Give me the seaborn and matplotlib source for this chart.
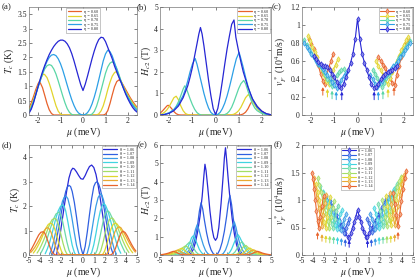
import matplotlib
matplotlib.use("Agg")
import matplotlib.pyplot as plt
import seaborn as sns
from matplotlib.colors import to_rgb
from matplotlib.ticker import FuncFormatter

# ── Series labels and colours ────────────────────────────────────────────
ETA = ["0.60", "0.65", "0.70", "0.75", "0.80"]
THETA = ["1.06", "1.07", "1.08", "1.09", "1.10", "1.11", "1.12", "1.13", "1.14"]
ETA_COLORS = ["#e8622b", "#e2d42c", "#5ad6a6", "#2c9fe6", "#2626d4"]
THETA_COLORS = ["#2828d6", "#3060e0", "#3a9ce6", "#40d4e0", "#6cdaa8",
                "#a4de66", "#dfd62e", "#e9a832", "#e8642c"]

# ── (a) Tc vs mu, eta series ─────────────────────────────────────────────
MU_A_060 = [-2.4, -2.3, -2.2, -2.1, -2.0, -1.95, -1.9, -1.8, -1.7, -1.6, -1.5, -1.4, -1.3,
            0.9, 1.0, 1.1, 1.2, 1.3, 1.4, 1.5, 1.6, 1.7, 1.8, 1.9, 2.0, 2.1, 2.2, 2.3, 2.4]
TC_A_060 = [0.24, 0.42, 0.64, 0.88, 1.08, 1.15, 1.12, 0.95, 0.68, 0.4, 0.18, 0.05, 0,
            0, 0.03, 0.15, 0.4, 0.7, 0.98, 1.16, 1.22, 1.16, 1.02, 0.88, 0.74, 0.6, 0.48, 0.37, 0.27]
MU_A_065 = [-2.4, -2.3, -2.2, -2.1, -2.0, -1.9, -1.8, -1.75, -1.7, -1.6, -1.5, -1.4, -1.3, -1.2, -1.1, -1.0, -0.9,
            0.6, 0.7, 0.8, 0.9, 1.0, 1.1, 1.2, 1.3, 1.4, 1.45, 1.5, 1.6, 1.7, 1.8, 1.9, 2.0, 2.1, 2.2, 2.3, 2.4]
TC_A_065 = [0.18, 0.33, 0.53, 0.76, 1.0, 1.22, 1.38, 1.42, 1.4, 1.3, 1.1, 0.85, 0.58, 0.32, 0.13, 0.03, 0,
            0, 0.04, 0.14, 0.32, 0.58, 0.88, 1.14, 1.35, 1.47, 1.5, 1.48, 1.35, 1.16, 0.98, 0.82, 0.67, 0.54, 0.42, 0.32, 0.23]
MU_A_070 = [-2.4, -2.3, -2.2, -2.1, -2.0, -1.9, -1.8, -1.7, -1.6, -1.5, -1.4, -1.3, -1.2, -1.1, -1.0, -0.9, -0.8,
            -0.7, -0.6, -0.5, -0.4,
            0.3, 0.4, 0.5, 0.6, 0.7, 0.8, 0.9, 1.0, 1.1, 1.2, 1.3, 1.4, 1.5, 1.6, 1.7, 1.8, 1.9, 2.0, 2.1, 2.2, 2.3, 2.4]
TC_A_070 = [0.14, 0.28, 0.48, 0.72, 0.97, 1.2, 1.42, 1.6, 1.71, 1.75, 1.72, 1.6, 1.42, 1.18, 0.92, 0.66, 0.42,
            0.22, 0.09, 0.02, 0,
            0, 0.03, 0.12, 0.3, 0.55, 0.85, 1.15, 1.45, 1.67, 1.8, 1.85, 1.78, 1.62, 1.4, 1.15, 0.95, 0.78, 0.63, 0.5, 0.38, 0.28, 0.19]
MU_A_GRID = [-2.4, -2.3, -2.2, -2.1, -2.0, -1.9, -1.8, -1.7, -1.6, -1.5, -1.4, -1.3, -1.2, -1.1, -1.0, -0.9, -0.8,
             -0.7, -0.6, -0.5, -0.4, -0.3, -0.2, -0.1, 0, 0.1, 0.2, 0.3, 0.4, 0.5, 0.6, 0.7, 0.8, 0.9, 1.0, 1.1, 1.2,
             1.3, 1.4, 1.5, 1.6, 1.7, 1.8, 1.9, 2.0, 2.1, 2.2, 2.3, 2.4]
TC_A_075 = [0.1, 0.24, 0.45, 0.7, 0.96, 1.2, 1.45, 1.68, 1.86, 2.0, 2.08, 2.1, 2.06, 1.95, 1.78, 1.56, 1.3,
            1.03, 0.77, 0.53, 0.33, 0.17, 0.07, 0.02, 0, 0.02, 0.08, 0.2, 0.38, 0.62, 0.9, 1.22, 1.55, 1.88, 2.12,
            2.25, 2.2, 2.05, 1.82, 1.58, 1.35, 1.13, 0.93, 0.75, 0.6, 0.46, 0.34, 0.24, 0.15]
TC_A_080 = [0.06, 0.2, 0.42, 0.7, 0.98, 1.25, 1.5, 1.72, 1.92, 2.1, 2.25, 2.38, 2.48, 2.56, 2.6, 2.6, 2.56,
            2.47, 2.33, 2.13, 1.88, 1.6, 1.32, 1.05, 0.85, 1.07, 1.35, 1.65, 1.95, 2.22, 2.45, 2.62, 2.7, 2.68, 2.55,
            2.35, 2.15, 1.95, 1.7, 1.5, 1.3, 1.12, 0.92, 0.72, 0.55, 0.4, 0.27, 0.17, 0.1]

# ── (b) Hc2 vs mu, eta series ────────────────────────────────────────────
MU_B_060 = [-2.4, -2.3, -2.2, -2.1, -2.05, -2.0, -1.9, -1.8, -1.7, -1.6, -1.5,
            1.0, 1.1, 1.2, 1.3, 1.4, 1.5, 1.6, 1.7, 1.8, 1.9, 2.0, 2.1, 2.2, 2.3, 2.4]
HC_B_060 = [0.08, 0.18, 0.3, 0.42, 0.45, 0.42, 0.3, 0.16, 0.06, 0.01, 0,
            0, 0.01, 0.05, 0.13, 0.28, 0.5, 0.68, 0.55, 0.4, 0.28, 0.18, 0.11, 0.06, 0.03, 0.01]
MU_B_065 = [-2.4, -2.3, -2.2, -2.1, -2.0, -1.9, -1.8, -1.7, -1.6, -1.5, -1.4, -1.3, -1.2, -1.1,
            0.6, 0.7, 0.8, 0.9, 1.0, 1.1, 1.2, 1.3, 1.42, 1.5, 1.6, 1.7, 1.8, 1.9, 2.0, 2.1, 2.2, 2.3, 2.4]
HC_B_065 = [0.02, 0.06, 0.13, 0.24, 0.4, 0.6, 0.8, 0.87, 0.7, 0.42, 0.2, 0.07, 0.02, 0,
            0, 0.01, 0.04, 0.1, 0.2, 0.36, 0.58, 0.8, 0.95, 0.85, 0.65, 0.46, 0.3, 0.19, 0.11, 0.06, 0.03, 0.01, 0]
MU_B_070 = [-2.4, -2.2, -2.0, -1.8, -1.7, -1.6, -1.5, -1.4, -1.33, -1.25, -1.1, -1.0, -0.9, -0.8, -0.7, -0.6,
            0.3, 0.4, 0.5, 0.6, 0.7, 0.8, 0.9, 1.0, 1.1, 1.22, 1.3, 1.4, 1.5, 1.6, 1.7, 1.8, 2.0, 2.2, 2.4]
HC_B_070 = [0, 0.03, 0.1, 0.25, 0.4, 0.62, 0.9, 1.2, 1.35, 1.2, 0.75, 0.48, 0.26, 0.11, 0.03, 0,
            0, 0.02, 0.07, 0.18, 0.36, 0.62, 0.92, 1.22, 1.45, 1.6, 1.45, 1.12, 0.8, 0.52, 0.32, 0.2, 0.07, 0.02, 0]
MU_B_075 = [-2.4, -2.2, -2.0, -1.8, -1.6, -1.4, -1.3, -1.2, -1.1, -1.0, -0.88, -0.8, -0.7, -0.6, -0.5, -0.4,
            -0.3, -0.2, -0.1, 0, 0.1, 0.2, 0.3, 0.4, 0.5, 0.6, 0.7, 0.8, 0.9, 1.02, 1.1, 1.2, 1.3, 1.4, 1.5, 1.6,
            1.8, 2.0, 2.2, 2.4]
HC_B_075 = [0, 0.03, 0.1, 0.25, 0.5, 0.9, 1.2, 1.58, 2.0, 2.35, 2.62, 2.35, 1.9, 1.45, 1.0, 0.62,
            0.32, 0.12, 0.03, 0, 0.03, 0.12, 0.3, 0.55, 0.88, 1.28, 1.72, 2.18, 2.6, 2.9, 2.6, 2.2, 1.75, 1.35, 1.0, 0.72,
            0.35, 0.15, 0.05, 0.01]
MU_B_080 = [-2.4, -2.2, -2.0, -1.8, -1.6, -1.4, -1.2, -1.1, -1.0, -0.9, -0.8, -0.72, -0.65, -0.58, -0.5, -0.4,
            -0.3, -0.2, -0.1, 0, 0.1, 0.2, 0.3, 0.4, 0.5, 0.6, 0.7, 0.75, 0.8, 0.88, 1.0, 1.1, 1.2, 1.4, 1.6, 1.8,
            2.0, 2.2, 2.4]
HC_B_080 = [0, 0.02, 0.08, 0.2, 0.42, 0.8, 1.35, 1.75, 2.2, 2.75, 3.3, 3.75, 4.05, 3.75, 3.2, 2.4,
            1.6, 0.9, 0.3, 0.02, 0.3, 0.9, 1.6, 2.35, 3.05, 3.65, 4.2, 4.3, 4.4, 3.6, 2.95, 2.45, 2.0, 1.3, 0.75, 0.4,
            0.18, 0.06, 0.01]

# ── (c) vF* vs mu, eta series (left / right branches) ────────────────────
MU_C_060_L = [-2.1, -2.0, -1.9, -1.8, -1.7, -1.6, -1.5, -1.42, -1.35, -1.25, -1.15, -1.05]
VF_C_060_L = [0.84, 0.79, 0.73, 0.65, 0.56, 0.46, 0.38, 0.34, 0.42, 0.52, 0.6, 0.68]
MU_C_060_R = [0.9, 1.0, 1.1, 1.2, 1.3, 1.4, 1.5, 1.6, 1.7, 1.8, 1.9, 2.0, 2.1, 2.2]
VF_C_060_R = [0.64, 0.6, 0.56, 0.52, 0.47, 0.41, 0.36, 0.33, 0.45, 0.55, 0.64, 0.72, 0.79, 0.84]
MU_C_065_L = [-2.15, -2.05, -1.95, -1.85, -1.75, -1.65, -1.55, -1.45, -1.35, -1.25, -1.15, -1.05, -0.95, -0.85]
VF_C_065_L = [0.88, 0.82, 0.76, 0.7, 0.64, 0.57, 0.5, 0.44, 0.38, 0.35, 0.42, 0.5, 0.56, 0.62]
MU_C_065_R = [0.8, 0.9, 1.0, 1.1, 1.2, 1.3, 1.4, 1.5, 1.6, 1.7, 1.8, 1.9, 2.0, 2.1, 2.2]
VF_C_065_R = [0.6, 0.55, 0.5, 0.45, 0.4, 0.34, 0.41, 0.48, 0.54, 0.6, 0.66, 0.72, 0.78, 0.83, 0.87]
MU_C_070_L = [-2.3, -2.2, -2.1, -2.0, -1.9, -1.8, -1.7, -1.6, -1.5, -1.4, -1.3, -1.2, -1.1, -1.0, -0.9, -0.8, -0.7, -0.6]
VF_C_070_L = [0.83, 0.78, 0.73, 0.69, 0.65, 0.61, 0.57, 0.53, 0.49, 0.45, 0.4, 0.36, 0.32, 0.38, 0.44, 0.48, 0.5, 0.51]
MU_C_070_R = [0.65, 0.75, 0.85, 0.95, 1.05, 1.15, 1.25, 1.35, 1.45, 1.55, 1.65, 1.75, 1.85, 1.95, 2.05, 2.15, 2.25]
VF_C_070_R = [0.5, 0.46, 0.41, 0.36, 0.31, 0.36, 0.41, 0.45, 0.49, 0.53, 0.57, 0.62, 0.66, 0.7, 0.74, 0.78, 0.82]
MU_C_075_L = [-2.3, -2.2, -2.1, -2.0, -1.9, -1.8, -1.7, -1.6, -1.5, -1.4, -1.3, -1.2, -1.1, -1.0, -0.9, -0.8,
              -0.7, -0.6, -0.5]
VF_C_075_L = [0.8, 0.76, 0.72, 0.68, 0.64, 0.6, 0.57, 0.54, 0.51, 0.48, 0.45, 0.41, 0.37, 0.33, 0.3, 0.34,
              0.39, 0.43, 0.47]
MU_C_075_R = [0.55, 0.65, 0.75, 0.85, 0.95, 1.05, 1.15, 1.25, 1.35, 1.45, 1.55, 1.65, 1.75, 1.85, 1.95, 2.05,
              2.15, 2.25]
VF_C_075_R = [0.45, 0.4, 0.35, 0.31, 0.34, 0.38, 0.42, 0.45, 0.48, 0.51, 0.54, 0.57, 0.6, 0.64, 0.68, 0.72,
              0.76, 0.8]
MU_C_080 = [-1.9, -1.8, -1.7, -1.6, -1.5, -1.4, -1.3, -1.2, -1.1, -1.0, -0.9, -0.8, -0.7, -0.6, -0.5, -0.4,
            -0.3, -0.2, -0.1, 0, 0.1, 0.2, 0.3, 0.4, 0.5, 0.6, 0.7, 0.8, 0.9, 1.0, 1.1, 1.2, 1.3, 1.4, 1.5, 1.6, 1.7]
VF_C_080 = [0.66, 0.62, 0.59, 0.57, 0.55, 0.54, 0.53, 0.5, 0.46, 0.42, 0.37, 0.32, 0.3, 0.35, 0.42, 0.5,
            0.58, 0.68, 0.84, 1.07, 0.84, 0.68, 0.58, 0.5, 0.42, 0.35, 0.3, 0.31, 0.35, 0.4, 0.43, 0.46, 0.48, 0.49,
            0.5, 0.52, 0.55]
ARROW_C_LEFT = [-1.5, -1.3, -1.1, -0.92, -0.68]
ARROW_C_RIGHT = [1.58, 1.32, 1.1, 0.9, 0.72]
ARROW_C_TOP = [0.31, 0.29, 0.27, 0.26, 0.26]

# ── (d) Tc vs mu, theta series ───────────────────────────────────────────
MU_D_106 = [-2.45, -2.3, -2.1, -1.9, -1.7, -1.5, -1.3, -1.1, -0.95, -0.8, -0.6, -0.4, -0.2, 0, 0.2, 0.4, 0.6,
            0.8, 1.0, 1.2, 1.4, 1.6, 1.8, 2.0, 2.2, 2.35]
TC_D_106 = [0, 0.35, 0.9, 1.5, 2.1, 2.65, 3.15, 3.45, 3.55, 3.52, 3.4, 3.25, 3.12, 3.1, 3.25, 3.45, 3.62,
            3.68, 3.58, 3.3, 2.85, 2.3, 1.7, 1.1, 0.5, 0.05]
MU_D_107 = [-2.8, -2.6, -2.4, -2.2, -2.0, -1.8, -1.6, -1.45, -1.3, -1.15, -1.0, -0.8, -0.6, -0.4, -0.2, 0, 0.2,
            0.4, 0.6, 0.8, 1.0, 1.15, 1.3, 1.45, 1.6, 1.8, 2.0, 2.2, 2.4, 2.6, 2.8]
TC_D_107 = [0.02, 0.3, 0.75, 1.25, 1.75, 2.2, 2.6, 2.78, 2.85, 2.8, 2.6, 2.15, 1.55, 0.9, 0.32, 0, 0.35,
            0.95, 1.65, 2.3, 2.8, 2.95, 3.0, 2.9, 2.7, 2.3, 1.8, 1.25, 0.7, 0.28, 0.03]
MU_D_108 = [-3.1, -2.9, -2.7, -2.5, -2.3, -2.1, -1.9, -1.75, -1.55, -1.4, -1.2, -1.0, -0.8, -0.6, -0.4, -0.3,
            0.3, 0.4, 0.6, 0.8, 1.0, 1.2, 1.4, 1.6, 1.75, 1.9, 2.1, 2.3, 2.5, 2.7, 2.9, 3.1]
TC_D_108 = [0.03, 0.25, 0.6, 1.0, 1.45, 1.85, 2.2, 2.35, 2.4, 2.3, 1.95, 1.45, 0.9, 0.4, 0.08, 0,
            0, 0.08, 0.42, 0.95, 1.5, 2.0, 2.35, 2.5, 2.45, 2.25, 1.85, 1.4, 0.95, 0.55, 0.22, 0.03]
MU_D_109 = [-3.5, -3.3, -3.1, -2.9, -2.7, -2.5, -2.3, -2.1, -1.9, -1.75, -1.6, -1.4, -1.2, -1.0, -0.8, -0.65,
            0.65, 0.8, 1.0, 1.2, 1.4, 1.6, 1.8, 1.95, 2.1, 2.3, 2.5, 2.7, 2.9, 3.1, 3.3, 3.5]
TC_D_109 = [0.05, 0.25, 0.5, 0.82, 1.18, 1.52, 1.8, 1.98, 2.05, 2.0, 1.8, 1.35, 0.85, 0.4, 0.1, 0,
            0, 0.1, 0.42, 0.88, 1.38, 1.8, 2.05, 2.1, 2.02, 1.8, 1.5, 1.15, 0.8, 0.5, 0.25, 0.07]
MU_D_110 = [-3.9, -3.7, -3.5, -3.3, -3.1, -2.9, -2.7, -2.5, -2.25, -2.1, -1.9, -1.7, -1.5, -1.3, -1.15, -1.0,
            1.0, 1.15, 1.3, 1.5, 1.7, 1.9, 2.1, 2.3, 2.45, 2.7, 2.9, 3.1, 3.3, 3.5, 3.7, 3.9]
TC_D_110 = [0.08, 0.25, 0.45, 0.7, 0.98, 1.25, 1.5, 1.68, 1.75, 1.68, 1.4, 0.98, 0.55, 0.2, 0.05, 0,
            0, 0.05, 0.2, 0.58, 1.02, 1.45, 1.72, 1.8, 1.75, 1.52, 1.27, 1.0, 0.73, 0.48, 0.28, 0.1]
MU_D_111 = [-4.25, -4.05, -3.85, -3.65, -3.45, -3.25, -3.05, -2.85, -2.6, -2.45, -2.25, -2.05, -1.85, -1.65,
            -1.5, -1.35, 1.35, 1.5, 1.65, 1.85, 2.05, 2.25, 2.45, 2.65, 2.8, 3.05, 3.25, 3.45, 3.65, 3.85, 4.05, 4.25]
TC_D_111 = [0.08, 0.22, 0.4, 0.6, 0.83, 1.07, 1.3, 1.45, 1.5, 1.44, 1.2, 0.85, 0.48, 0.18,
            0.05, 0, 0, 0.05, 0.18, 0.5, 0.88, 1.22, 1.45, 1.52, 1.48, 1.3, 1.08, 0.85, 0.62, 0.42, 0.24, 0.1]
MU_D_112 = [-4.6, -4.4, -4.2, -4.0, -3.8, -3.6, -3.4, -3.2, -2.95, -2.8, -2.6, -2.4, -2.2, -2.0, -1.85, -1.7,
            1.7, 1.85, 2.0, 2.2, 2.4, 2.6, 2.8, 3.0, 3.15, 3.4, 3.6, 3.8, 4.0, 4.2, 4.4, 4.6]
TC_D_112 = [0.08, 0.2, 0.35, 0.52, 0.72, 0.93, 1.12, 1.26, 1.3, 1.25, 1.05, 0.75, 0.42, 0.16, 0.04, 0,
            0, 0.04, 0.16, 0.44, 0.78, 1.07, 1.26, 1.3, 1.27, 1.12, 0.93, 0.73, 0.53, 0.36, 0.21, 0.09]
MU_D_113 = [-4.85, -4.65, -4.45, -4.25, -4.05, -3.85, -3.65, -3.45, -3.3, -3.15, -2.95, -2.75, -2.55, -2.35,
            -2.2, -2.05, 2.05, 2.2, 2.35, 2.55, 2.75, 2.95, 3.15, 3.35, 3.5, 3.7, 3.9, 4.1, 4.3, 4.5, 4.7, 4.85]
TC_D_113 = [0.1, 0.2, 0.32, 0.47, 0.63, 0.8, 0.96, 1.08, 1.12, 1.08, 0.92, 0.65, 0.37, 0.14,
            0.04, 0, 0, 0.04, 0.14, 0.38, 0.67, 0.95, 1.1, 1.15, 1.12, 0.98, 0.82, 0.65, 0.48, 0.33, 0.2, 0.12]
MU_D_114 = [-4.9, -4.7, -4.5, -4.3, -4.1, -3.9, -3.7, -3.55, -3.4, -3.2, -3.0, -2.8, -2.6, -2.45,
            2.45, 2.6, 2.8, 3.0, 3.2, 3.4, 3.55, 3.72, 3.9, 4.1, 4.3, 4.5, 4.7, 4.9]
TC_D_114 = [0.15, 0.3, 0.47, 0.65, 0.82, 0.93, 0.95, 0.9, 0.75, 0.5, 0.25, 0.08, 0.01, 0,
            0, 0.01, 0.08, 0.26, 0.52, 0.78, 0.92, 0.97, 0.92, 0.78, 0.6, 0.43, 0.28, 0.16]

# ── (e) Hc2 vs mu, theta series ──────────────────────────────────────────
MU_E_106 = [-2.4, -2.2, -2.0, -1.8, -1.6, -1.4, -1.2, -1.05, -0.95, -0.85, -0.7, -0.5, -0.3, -0.15, 0, 0.15,
            0.3, 0.5, 0.7, 0.8, 0.9, 1.0, 1.15, 1.3, 1.5, 1.7, 1.9, 2.1, 2.3]
HC_E_106 = [0, 0.1, 0.3, 0.7, 1.3, 2.1, 3.2, 4.3, 4.95, 4.6, 3.7, 2.4, 1.4, 0.95, 0.8, 0.95,
            1.5, 2.8, 4.4, 5.3, 5.85, 5.2, 4.1, 3.1, 2.0, 1.15, 0.55, 0.18, 0.02]
MU_E_107 = [-2.6, -2.4, -2.2, -2.0, -1.8, -1.6, -1.45, -1.3, -1.15, -1.0, -0.8, -0.6, -0.4, -0.2, 0, 0.2,
            0.4, 0.6, 0.8, 1.0, 1.15, 1.3, 1.45, 1.6, 1.8, 2.0, 2.2, 2.4, 2.6]
HC_E_107 = [0.02, 0.1, 0.25, 0.55, 1.0, 1.7, 2.4, 2.85, 2.5, 1.9, 1.2, 0.65, 0.28, 0.07, 0, 0.07,
            0.3, 0.7, 1.3, 2.1, 2.8, 3.25, 2.75, 2.0, 1.2, 0.6, 0.25, 0.08, 0.02]
MU_E_108 = [-3.0, -2.8, -2.6, -2.4, -2.2, -2.0, -1.8, -1.65, -1.5, -1.3, -1.1, -0.9, -0.7, -0.5, -0.35,
            0.35, 0.5, 0.7, 0.9, 1.1, 1.3, 1.5, 1.7, 1.85, 2.0, 2.2, 2.4, 2.6, 2.8, 3.0]
HC_E_108 = [0.01, 0.05, 0.12, 0.25, 0.5, 0.9, 1.4, 1.65, 1.4, 0.95, 0.55, 0.25, 0.08, 0.01, 0,
            0, 0.01, 0.08, 0.27, 0.6, 1.05, 1.5, 1.8, 1.5, 1.05, 0.6, 0.3, 0.12, 0.05, 0.01]
MU_E_109 = [-3.4, -3.1, -2.8, -2.5, -2.3, -2.15, -2.0, -1.85, -1.65, -1.45, -1.25, -1.05, -0.85, -0.7,
            0.7, 0.85, 1.05, 1.25, 1.45, 1.65, 1.85, 2.05, 2.2, 2.4, 2.6, 2.9, 3.2, 3.4]
HC_E_109 = [0.01, 0.05, 0.15, 0.4, 0.7, 0.95, 1.05, 0.9, 0.6, 0.3, 0.12, 0.03, 0.005, 0,
            0, 0.005, 0.03, 0.12, 0.32, 0.62, 0.92, 1.1, 0.95, 0.7, 0.4, 0.15, 0.05, 0.01]
MU_E_110 = [-3.8, -3.4, -3.1, -2.85, -2.6, -2.35, -2.15, -1.95, -1.75, -1.55, -1.3, -1.05,
            1.05, 1.3, 1.55, 1.75, 1.95, 2.15, 2.4, 2.6, 2.85, 3.1, 3.4, 3.8]
HC_E_110 = [0.01, 0.05, 0.15, 0.33, 0.55, 0.7, 0.58, 0.35, 0.16, 0.05, 0.01, 0,
            0, 0.01, 0.05, 0.16, 0.36, 0.6, 0.72, 0.56, 0.33, 0.15, 0.05, 0.01]
MU_E_111 = [-4.2, -3.8, -3.45, -3.2, -2.95, -2.7, -2.5, -2.3, -2.1, -1.9, -1.65, -1.4,
            1.4, 1.65, 1.9, 2.1, 2.3, 2.5, 2.75, 2.95, 3.2, 3.45, 3.8, 4.2]
HC_E_111 = [0.01, 0.04, 0.12, 0.24, 0.4, 0.5, 0.42, 0.25, 0.12, 0.04, 0.01, 0,
            0, 0.01, 0.04, 0.12, 0.26, 0.44, 0.52, 0.4, 0.24, 0.12, 0.04, 0.01]
MU_E_112 = [-4.5, -4.15, -3.8, -3.55, -3.3, -3.05, -2.85, -2.65, -2.45, -2.25, -2.0, -1.75,
            1.75, 2.0, 2.25, 2.45, 2.65, 2.85, 3.1, 3.3, 3.55, 3.8, 4.15, 4.5]
HC_E_112 = [0.01, 0.04, 0.1, 0.18, 0.3, 0.37, 0.3, 0.18, 0.08, 0.03, 0.005, 0,
            0, 0.005, 0.03, 0.08, 0.19, 0.31, 0.38, 0.3, 0.18, 0.1, 0.04, 0.01]
MU_E_113 = [-4.8, -4.45, -4.15, -3.9, -3.65, -3.4, -3.2, -3.0, -2.8, -2.6, -2.35, -2.1,
            2.1, 2.35, 2.6, 2.8, 3.0, 3.2, 3.45, 3.65, 3.9, 4.15, 4.45, 4.8]
HC_E_113 = [0.01, 0.03, 0.08, 0.14, 0.22, 0.27, 0.22, 0.13, 0.06, 0.02, 0.005, 0,
            0, 0.005, 0.02, 0.06, 0.14, 0.23, 0.28, 0.22, 0.14, 0.08, 0.03, 0.01]
MU_E_114 = [-5.0, -4.75, -4.5, -4.25, -4.0, -3.8, -3.6, -3.4, -3.2, -3.0, -2.75, -2.5,
            2.5, 2.75, 3.0, 3.2, 3.4, 3.6, 3.8, 4.0, 4.25, 4.5, 4.75, 5.0]
HC_E_114 = [0.01, 0.03, 0.06, 0.1, 0.16, 0.2, 0.16, 0.1, 0.05, 0.02, 0.005, 0,
            0, 0.005, 0.02, 0.05, 0.1, 0.16, 0.2, 0.16, 0.1, 0.06, 0.03, 0.01]

# ── (f) vF* vs mu, theta series (left / right branches) ──────────────────
MU_F_106 = [-2.1, -1.9, -1.7, -1.5, -1.3, -1.1, -0.9, -0.75, -0.6, -0.45, -0.3, -0.15, 0, 0.15, 0.3, 0.45,
            0.6, 0.75, 0.9, 1.05, 1.25, 1.45, 1.65, 1.85, 2.05]
VF_F_106 = [0.8, 0.72, 0.64, 0.55, 0.47, 0.4, 0.33, 0.31, 0.4, 0.5, 0.6, 0.7, 0.82, 0.7, 0.6, 0.5,
            0.41, 0.33, 0.32, 0.4, 0.48, 0.56, 0.64, 0.72, 0.8]
MU_F_107_L = [-2.5, -2.3, -2.1, -1.9, -1.7, -1.5, -1.35, -1.2, -1.05, -0.9, -0.75]
VF_F_107_L = [0.98, 0.9, 0.8, 0.72, 0.62, 0.52, 0.45, 0.4, 0.5, 0.58, 0.65]
MU_F_107_R = [0.85, 1.0, 1.15, 1.3, 1.45, 1.65, 1.85, 2.05, 2.25, 2.45, 2.6]
VF_F_107_R = [0.66, 0.58, 0.5, 0.42, 0.48, 0.58, 0.68, 0.78, 0.88, 0.96, 1.02]
MU_F_108_L = [-2.8, -2.6, -2.4, -2.2, -2.0, -1.8, -1.65, -1.5, -1.35, -1.2, -1.05]
VF_F_108_L = [1.08, 0.98, 0.88, 0.78, 0.68, 0.58, 0.5, 0.45, 0.56, 0.66, 0.74]
MU_F_108_R = [1.15, 1.3, 1.45, 1.6, 1.75, 1.95, 2.15, 2.35, 2.55, 2.75, 2.9]
VF_F_108_R = [0.75, 0.66, 0.56, 0.47, 0.52, 0.62, 0.74, 0.84, 0.94, 1.04, 1.1]
MU_F_109_L = [-3.1, -2.9, -2.7, -2.5, -2.3, -2.15, -2.0, -1.85, -1.7, -1.55, -1.4]
VF_F_109_L = [1.15, 1.05, 0.95, 0.84, 0.72, 0.62, 0.55, 0.48, 0.62, 0.74, 0.82]
MU_F_109_R = [1.5, 1.65, 1.8, 1.95, 2.1, 2.3, 2.5, 2.7, 2.9, 3.1, 3.25]
VF_F_109_R = [0.85, 0.75, 0.63, 0.5, 0.56, 0.68, 0.8, 0.92, 1.02, 1.12, 1.2]
MU_F_110_L = [-3.35, -3.15, -2.95, -2.75, -2.6, -2.45, -2.3, -2.2, -2.05, -1.9, -1.75]
VF_F_110_L = [1.25, 1.13, 1.0, 0.88, 0.78, 0.67, 0.57, 0.5, 0.66, 0.8, 0.9]
MU_F_110_R = [1.85, 2.0, 2.15, 2.3, 2.45, 2.65, 2.85, 3.05, 3.25, 3.45, 3.6]
VF_F_110_R = [0.92, 0.8, 0.66, 0.52, 0.6, 0.74, 0.88, 1.0, 1.12, 1.24, 1.3]
MU_F_111_L = [-3.6, -3.45, -3.3, -3.15, -3.0, -2.85, -2.7, -2.55, -2.4, -2.25, -2.1]
VF_F_111_L = [1.4, 1.28, 1.15, 1.02, 0.88, 0.75, 0.62, 0.5, 0.7, 0.86, 0.98]
MU_F_111_R = [2.2, 2.35, 2.5, 2.65, 2.8, 3.0, 3.2, 3.4, 3.6, 3.75, 3.9]
VF_F_111_R = [1.0, 0.86, 0.7, 0.52, 0.64, 0.8, 0.96, 1.1, 1.24, 1.34, 1.42]
MU_F_112_L = [-3.75, -3.6, -3.45, -3.3, -3.15, -3.0, -2.85, -2.75, -2.6, -2.45]
VF_F_112_L = [1.3, 1.15, 1.0, 0.86, 0.72, 0.6, 0.5, 0.7, 0.9, 1.05]
MU_F_112_R = [2.55, 2.7, 2.85, 3.0, 3.15, 3.3, 3.5, 3.7, 3.9, 4.05]
VF_F_112_R = [1.08, 0.9, 0.72, 0.55, 0.68, 0.84, 1.0, 1.16, 1.3, 1.4]
MU_F_113_L = [-3.95, -3.8, -3.65, -3.5, -3.35, -3.2, -3.1, -2.95, -2.8]
VF_F_113_L = [1.4, 1.22, 1.04, 0.86, 0.7, 0.52, 0.72, 0.94, 1.1]
MU_F_113_R = [2.9, 3.05, 3.2, 3.35, 3.5, 3.65, 3.85, 4.05, 4.2]
VF_F_113_R = [1.12, 0.92, 0.72, 0.54, 0.7, 0.9, 1.1, 1.3, 1.45]
MU_F_114_L = [-4.1, -4.0, -3.9, -3.8, -3.7, -3.6, -3.5, -3.35, -3.2, -3.05]
VF_F_114_L = [1.5, 1.38, 1.2, 1.0, 0.8, 0.62, 0.5, 0.7, 0.9, 1.08]
MU_F_114_R = [3.2, 3.35, 3.5, 3.65, 3.8, 3.95, 4.1, 4.25, 4.4]
VF_F_114_R = [1.12, 0.92, 0.72, 0.52, 0.74, 0.98, 1.2, 1.4, 1.53]
ARROW_F_LEFT = [-0.75, -1.1, -1.45, -1.8, -2.15, -2.5, -2.85, -3.2, -3.6]
ARROW_F_RIGHT = [0.9, 1.25, 1.6, 1.95, 2.3, 2.65, 3.0, 3.35, 3.65]
ARROW_F_TOP = [0.27, 0.29, 0.31, 0.33, 0.34, 0.35, 0.36, 0.38, 0.42]


sns.set_theme(style="ticks")
plt.rcParams["font.family"] = ["Liberation Serif", "DejaVu Serif"]
plt.rcParams["mathtext.fontset"] = "stix"
plt.rcParams["legend.numpoints"] = 1

W, H = 415, 278
fig = plt.figure(figsize=(W / 100, H / 100), dpi=100)


def add_axes(left, top, width, height):
    return fig.add_axes([left / W, 1 - (top + height) / H, width / W, height / H])


def style_axis(ax, xlim, xticks, ylim, yticks, ylabel):
    ax.set_xlim(*xlim)
    ax.set_ylim(*ylim)
    ax.set_xticks(xticks)
    ax.set_yticks(yticks)
    fmt = FuncFormatter(lambda v, _: f"{v:g}")
    ax.xaxis.set_major_formatter(fmt)
    ax.yaxis.set_major_formatter(fmt)
    ax.tick_params(direction="in", top=True, right=True, length=2, width=0.4,
                   labelsize=5.5, pad=1.5, colors="#222222")
    for spine in ax.spines.values():
        spine.set_linewidth(0.5)
        spine.set_color("#777777")
    ax.set_xlabel(r"$\mu$ (meV)", fontsize=7, labelpad=0.5)
    ax.set_ylabel(ylabel, fontsize=7, labelpad=1)


def light(color, amount=0.45):
    r, g, b = to_rgb(color)
    return (r + (1 - r) * amount, g + (1 - g) * amount, b + (1 - b) * amount)


def draw_line(ax, mu, val, color, label=None, marker=None):
    kw = dict(lw=0.9)
    if marker:
        kw.update(marker=marker, markersize=2.8, markeredgewidth=0.5,
                  markeredgecolor=color, markerfacecolor=light(color), lw=0.8)
    sns.lineplot(x=mu, y=val, ax=ax, color=color, sort=False, estimator=None,
                 label=label, legend=False, **kw)


def draw_arrow(ax, x, top, length, color):
    ax.annotate("", xy=(x, top), xytext=(x, top - length),
                arrowprops=dict(arrowstyle="-|>", color=color, lw=0.7,
                                mutation_scale=4, shrinkA=0, shrinkB=0))


def add_legend(ax, prefix, labels, loc, **kw):
    named = [h for h in ax.get_lines() if not h.get_label().startswith("_")]
    leg = ax.legend(named, [f"{prefix} = {lab}" for lab in labels], loc=loc,
                    fontsize=3.1, handlelength=3.2, labelspacing=0.1, borderpad=0.3,
                    handletextpad=0.6, fancybox=False, edgecolor="#999999",
                    framealpha=1, **kw)
    leg.get_frame().set_linewidth(0.4)


# ── (a) ─────────────────────────────────────────────────────────────────
ax_a = add_axes(29, 7, 108, 108)
a_series = [(MU_A_060, TC_A_060), (MU_A_065, TC_A_065), (MU_A_070, TC_A_070),
            (MU_A_GRID, TC_A_075), (MU_A_GRID, TC_A_080)]
for (mu, tc), lab, col in zip(a_series, ETA, ETA_COLORS):
    draw_line(ax_a, mu, tc, col, label=lab)
style_axis(ax_a, (-2.4, 2.4), [-2, -1, 0, 1, 2], (0, 3.75),
           [0, 0.5, 1, 1.5, 2, 2.5, 3, 3.5], r"$T_c$ (K)")
add_legend(ax_a, "η", ETA, "upper center", borderaxespad=0.3)

# ── (b) ─────────────────────────────────────────────────────────────────
ax_b = add_axes(160, 7, 111, 108)
b_series = [(MU_B_060, HC_B_060), (MU_B_065, HC_B_065), (MU_B_070, HC_B_070),
            (MU_B_075, HC_B_075), (MU_B_080, HC_B_080)]
for (mu, hc), lab, col in zip(b_series, ETA, ETA_COLORS):
    draw_line(ax_b, mu, hc, col, label=lab)
style_axis(ax_b, (-2.4, 2.4), [-2, -1, 0, 1, 2], (0, 5), [0, 1, 2, 3, 4, 5], r"$H_{c2}$ (T)")
add_legend(ax_b, "η", ETA, "upper right", borderaxespad=0.3)

# ── (c) ─────────────────────────────────────────────────────────────────
ax_c = add_axes(302, 7, 111, 108)
c_series = [
    [(MU_C_060_L, VF_C_060_L), (MU_C_060_R, VF_C_060_R)],
    [(MU_C_065_L, VF_C_065_L), (MU_C_065_R, VF_C_065_R)],
    [(MU_C_070_L, VF_C_070_L), (MU_C_070_R, VF_C_070_R)],
    [(MU_C_075_L, VF_C_075_L), (MU_C_075_R, VF_C_075_R)],
    [(MU_C_080, VF_C_080)],
]
for branches, lab, col in zip(c_series, ETA, ETA_COLORS):
    for i, (mu, vf) in enumerate(branches):
        draw_line(ax_c, mu, vf, col, label=lab if i == 0 else None, marker="d")
for xl, xr, top, col in zip(ARROW_C_LEFT, ARROW_C_RIGHT, ARROW_C_TOP, ETA_COLORS):
    draw_arrow(ax_c, xl, top, 0.09, col)
    draw_arrow(ax_c, xr, top, 0.09, col)
style_axis(ax_c, (-2.4, 2.4), [-2, -1, 0, 1, 2], (0, 1.2),
           [0, 0.2, 0.4, 0.6, 0.8, 1, 1.2], r"$v^*_F$ (10$^4$m/s)")
add_legend(ax_c, "η", ETA, "upper right", borderaxespad=0.3)

# ── (d) ─────────────────────────────────────────────────────────────────
ax_d = add_axes(29, 145, 108, 110)
d_series = [(MU_D_106, TC_D_106), (MU_D_107, TC_D_107), (MU_D_108, TC_D_108),
            (MU_D_109, TC_D_109), (MU_D_110, TC_D_110), (MU_D_111, TC_D_111),
            (MU_D_112, TC_D_112), (MU_D_113, TC_D_113), (MU_D_114, TC_D_114)]
for (mu, tc), lab, col in zip(d_series, THETA, THETA_COLORS):
    draw_line(ax_d, mu, tc, col, label=lab)
style_axis(ax_d, (-5, 5), list(range(-5, 6)), (0, 4.5), [0, 1, 2, 3, 4], r"$T_c$ (K)")
add_legend(ax_d, "θ", THETA, "upper right", borderaxespad=0.3)

# ── (e) ─────────────────────────────────────────────────────────────────
ax_e = add_axes(160, 145, 111, 110)
e_series = [(MU_E_106, HC_E_106), (MU_E_107, HC_E_107), (MU_E_108, HC_E_108),
            (MU_E_109, HC_E_109), (MU_E_110, HC_E_110), (MU_E_111, HC_E_111),
            (MU_E_112, HC_E_112), (MU_E_113, HC_E_113), (MU_E_114, HC_E_114)]
for (mu, hc), lab, col in zip(e_series, THETA, THETA_COLORS):
    draw_line(ax_e, mu, hc, col, label=lab)
style_axis(ax_e, (-5, 5), list(range(-5, 6)), (0, 6), [0, 1, 2, 3, 4, 5, 6], r"$H_{c2}$ (T)")
add_legend(ax_e, "θ", THETA, "upper right", borderaxespad=0.3)

# ── (f) ─────────────────────────────────────────────────────────────────
ax_f = add_axes(302, 145, 111, 110)
f_series = [
    [(MU_F_106, VF_F_106)],
    [(MU_F_107_L, VF_F_107_L), (MU_F_107_R, VF_F_107_R)],
    [(MU_F_108_L, VF_F_108_L), (MU_F_108_R, VF_F_108_R)],
    [(MU_F_109_L, VF_F_109_L), (MU_F_109_R, VF_F_109_R)],
    [(MU_F_110_L, VF_F_110_L), (MU_F_110_R, VF_F_110_R)],
    [(MU_F_111_L, VF_F_111_L), (MU_F_111_R, VF_F_111_R)],
    [(MU_F_112_L, VF_F_112_L), (MU_F_112_R, VF_F_112_R)],
    [(MU_F_113_L, VF_F_113_L), (MU_F_113_R, VF_F_113_R)],
    [(MU_F_114_L, VF_F_114_L), (MU_F_114_R, VF_F_114_R)],
]
for branches, lab, col in zip(f_series, THETA, THETA_COLORS):
    for i, (mu, vf) in enumerate(branches):
        draw_line(ax_f, mu, vf, col, label=lab if i == 0 else None, marker="d")
for xl, xr, top, col in zip(ARROW_F_LEFT, ARROW_F_RIGHT, ARROW_F_TOP, THETA_COLORS):
    draw_arrow(ax_f, xl, top, 0.13, col)
    draw_arrow(ax_f, xr, top, 0.13, col)
style_axis(ax_f, (-5, 5), list(range(-5, 6)), (0, 2), [0, 0.5, 1, 1.5, 2], r"$v^*_F$ (10$^4$m/s)")
add_legend(ax_f, "θ", THETA, "upper center", borderaxespad=0.6)

# ── Panel tags ──────────────────────────────────────────────────────────
for x, y, tag in [(2, 3, "(a)"), (137, 3, "(b)"), (272, 3, "(c)"),
                  (2, 141, "(d)"), (138, 141, "(e)"), (274, 141, "(f)")]:
    fig.text(x / W, 1 - y / H, tag, fontsize=6.5, va="top", ha="left")

fig.savefig("out.png", dpi=100)
